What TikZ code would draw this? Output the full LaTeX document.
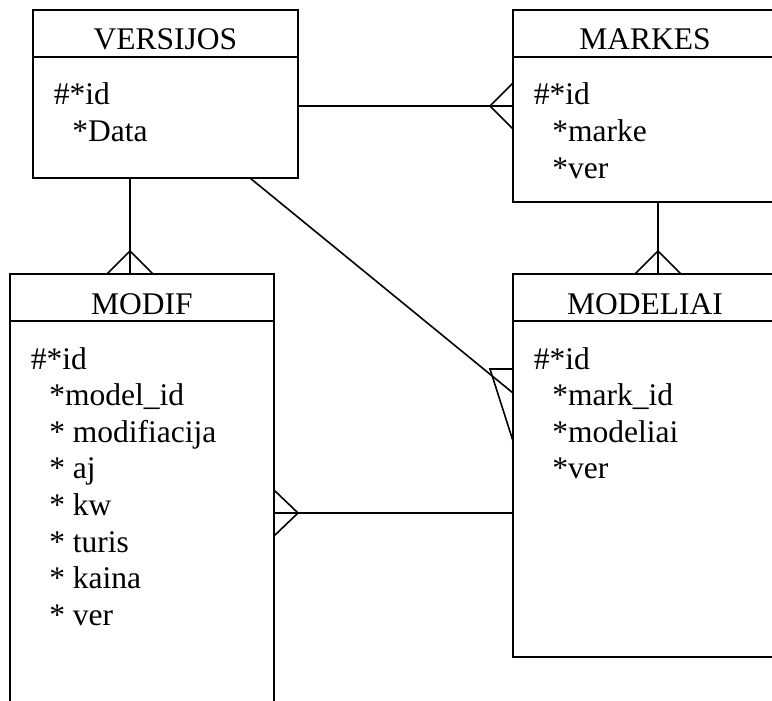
\documentclass[tikz,border=0pt]{standalone}
\usepackage{fontspec}
\setmainfont{Liberation Serif}
\usetikzlibrary{calc}

\begin{document}
\begin{tikzpicture}[x=1pt, y=-1pt, line width=1.6pt,
  every node/.style={font=\fontsize{31.5}{37}\selectfont, inner sep=0pt},
  entity/.style={draw, rectangle, outer sep=0pt, minimum width=264pt, anchor=north west},
  attr/.style={anchor=base west}]
  \useasboundingbox (0,0) rectangle (772,701);
  \clip (0,0) rectangle (772,701);

  % entities
  \node[entity, minimum width=265pt, minimum height=168pt] (versijos) at (33,10) {};
  \node[entity, minimum height=192pt] (markes) at (513,10) {};
  \node[entity, minimum height=470pt] (modif) at (10,274) {};
  \node[entity, minimum height=383pt] (modeliai) at (513,274) {};

  \foreach \e/\lab in {versijos/VERSIJOS, markes/MARKES, modif/MODIF, modeliai/MODELIAI}{
    \draw ($(\e.north west)+(0,47)$) -- ($(\e.north east)+(0,47)$);
    \node[anchor=base] (\e-head) at ($(\e.north)+(0,40)$) {\lab};
    \node[attr] (\e-key) at ($(\e.north west)+(20,95)$) {\#*id};
  }

  % attributes
  \foreach \txt [count=\i] in {*Data}
    \node[attr] (versijos-\i) at ($(versijos.north west)+(38.5,95+36.6*\i)$) {\txt};
  \foreach \txt [count=\i] in {*marke, *ver}
    \node[attr] (markes-\i) at ($(markes.north west)+(38.5,95+36.6*\i)$) {\txt};
  \foreach \txt [count=\i] in {*model\_id, * modifiacija, * aj, * kw, * turis, * kaina, * ver}
    \node[attr] (modif-\i) at ($(modif.north west)+(38.5,95+36.6*\i)$) {\txt};
  \foreach \txt [count=\i] in {*mark\_id, *modeliai, *ver}
    \node[attr] (modeliai-\i) at ($(modeliai.north west)+(38.5,95+36.6*\i)$) {\txt};

  % relations (crow's foot on the many side)
  \coordinate (vm) at ($(versijos.north east)+(0,96)$);
  \coordinate (mv) at (markes.west |- vm);
  \draw (vm) -- (mv);
  \draw ($(mv)+(0,-23)$) -- ($(mv)+(-23,0)$) -- ($(mv)+(0,23)$);

  \coordinate (vd) at ($(versijos.south west)+(97,0)$);
  \coordinate (dv) at (vd |- modif.north);
  \draw (vd) -- (dv);
  \draw ($(dv)+(-23,0)$) -- ($(dv)+(0,-23)$) -- ($(dv)+(23,0)$);

  \coordinate (mk) at ($(markes.south west)+(145,0)$);
  \coordinate (km) at (mk |- modeliai.north);
  \draw (mk) -- (km);
  \draw ($(km)+(-23,0)$) -- ($(km)+(0,-23)$) -- ($(km)+(23,0)$);

  \coordinate (vl) at ($(versijos.south west)+(217,0)$);
  \coordinate (lv) at ($(modeliai.north west)+(0,119)$);
  \draw (vl) -- (lv);
  \draw ($(lv)+(0,-24)$) -- ($(lv)+(-23,-24)$) -- ($(lv)+(0,48)$);

  \coordinate (dl) at ($(modif.north east)+(0,239)$);
  \coordinate (ld) at (modeliai.west |- dl);
  \draw (dl) -- (ld);
  \draw ($(dl)+(0,-23)$) -- ($(dl)+(24,0)$) -- ($(dl)+(0,23)$);
\end{tikzpicture}
\end{document}
